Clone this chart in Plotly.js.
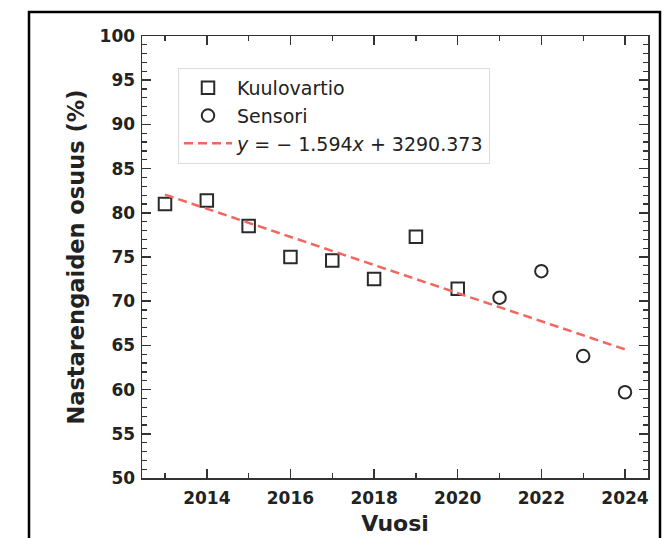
<!DOCTYPE html>
<html>
<head>
<meta charset="utf-8">
<script src="https://cdn.plot.ly/plotly-3.0.1.min.js"></script>
<style>
html,body{margin:0;padding:0;background:#fff;}
#chart{width:665px;height:538px;}
</style>
</head>
<body>
<div id="chart"></div>
<script>
// ---- data ----
var kuuloYears = [2013, 2014, 2015, 2016, 2017, 2018, 2019, 2020];
var kuuloValues = [81.0, 81.4, 78.5, 75.0, 74.6, 72.5, 77.3, 71.4];
var sensoriYears = [2021, 2022, 2023, 2024];
var sensoriValues = [70.4, 73.4, 63.8, 59.7];
// fitted trend line, end points
var fitYears = [2013, 2024];
var fitValues = [82.05, 64.55];
var seriesNames = ["Kuulovartio", "Sensori", "<i>y</i> = − 1.594<i>x</i> + 3290.373"];
var xTitle = "Vuosi";
var yTitle = "Nastarengaiden osuus (%)";

// ---- layout constants ----
var W = 665, H = 538;
var mL = 142, mR = 17, mT = 36, mB = 60;
var pw = W - mL - mR, ph = H - mT - mB;
function px2x(p) { return (p - mL) / pw; }
function py2y(p) { return (H - mB - p) / ph; }

var ink = '#222222';
var font = 'DejaVu Sans, Verdana, sans-serif';

var traces = [
  {
    type: 'scatter', mode: 'markers', name: seriesNames[0],
    x: kuuloYears, y: kuuloValues,
    marker: { symbol: 'square-open', size: 12.5, color: '#2a2a2a', line: { width: 2, color: '#2a2a2a' } }
  },
  {
    type: 'scatter', mode: 'markers', name: seriesNames[1],
    x: sensoriYears, y: sensoriValues,
    marker: { symbol: 'circle-open', size: 12.5, color: '#2a2a2a', line: { width: 2, color: '#2a2a2a' } }
  },
  {
    type: 'scatter', mode: 'lines', name: seriesNames[2],
    x: fitYears, y: fitValues,
    line: { color: '#f2665f', width: 2.5, dash: '9px,5px' }
  }
];

var axisCommon = {
  showline: true, linecolor: '#333', linewidth: 1.5, mirror: 'allticks',
  ticks: 'inside', ticklen: 9, tickwidth: 1.5, tickcolor: '#333',
  showgrid: false, zeroline: false,
  tickfont: { family: font, size: 17, color: ink, weight: 'bold' }
};

var layout = {
  width: W, height: H,
  margin: { l: mL, r: mR, t: mT, b: mB, pad: 0 },
  paper_bgcolor: '#fff', plot_bgcolor: '#fff',
  showlegend: true,
  xaxis: Object.assign({}, axisCommon, {
    range: [2012.45, 2024.55], tick0: 2014, dtick: 2,
    ticklabelstandoff: 4,
    minor: { dtick: 1, tick0: 2013, ticks: 'inside', ticklen: 5, tickwidth: 1.2, tickcolor: '#333' },
    title: { text: xTitle, font: { family: font, size: 22, color: ink, weight: 'bold' }, standoff: 8 },
    automargin: false
  }),
  yaxis: Object.assign({}, axisCommon, {
    range: [50, 100], tick0: 50, dtick: 5,
    ticklabelstandoff: 2,
    minor: { dtick: 1, ticks: 'inside', ticklen: 5, tickwidth: 1.2, tickcolor: '#333' },
    title: { text: yTitle, font: { family: font, size: 22.5, color: ink, weight: 'bold' }, standoff: 8 },
    automargin: false
  }),
  legend: {
    x: px2x(178), y: py2y(68), xanchor: 'left', yanchor: 'top',
    bgcolor: '#fff', bordercolor: '#dcdcdc', borderwidth: 1,
    font: { family: font, size: 19, color: ink },
    itemwidth: 48
  },
  shapes: [
    {
      type: 'rect', xref: 'paper', yref: 'paper',
      x0: px2x(29), x1: px2x(660), y0: py2y(560), y1: py2y(12),
      line: { color: '#000', width: 2.5 }, fillcolor: 'rgba(0,0,0,0)', layer: 'above'
    }
  ]
};

Plotly.newPlot('chart', traces, layout, { displayModeBar: false, staticPlot: true });
</script>
</body>
</html>
